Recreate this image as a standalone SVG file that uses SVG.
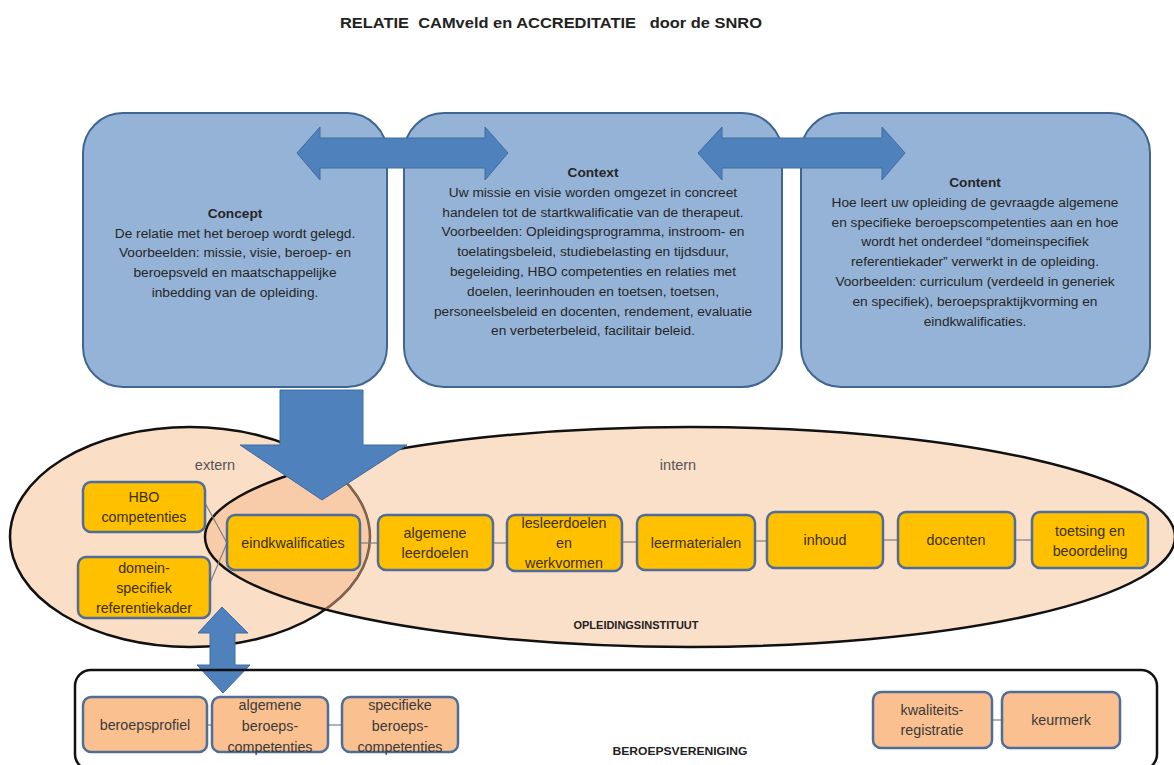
<svg xmlns="http://www.w3.org/2000/svg" width="1174" height="765" viewBox="0 0 1174 765">
<style>
text{font-family:"Liberation Sans",Arial,sans-serif;fill:#222;}
.title{font-size:15.5px;font-weight:bold;}
.blue{fill:#95b3d7;stroke:#3f6593;stroke-width:2;}
.big{font-size:13.7px;text-anchor:middle;fill:#262626;}
.bold{font-weight:bold;}
.arrow{fill:#4f81bd;stroke:#3f6c9f;stroke-width:1;}
.yel{fill:#ffc000;stroke:#4f6d96;stroke-width:2.5;}
.org{fill:#fac090;stroke:#4f6d96;stroke-width:2.5;}
.lbl{font-size:14.3px;text-anchor:middle;fill:#3a3000;}
.olbl{font-size:14.3px;text-anchor:middle;fill:#3a3a3a;}
.small{font-size:11px;font-weight:bold;text-anchor:middle;}
.con{stroke:#7f7f7f;stroke-width:1.2;fill:none;}
.gray{font-size:14.5px;text-anchor:middle;fill:#555;}
</style>
<text class="title" x="551" y="28" text-anchor="middle" textLength="422" lengthAdjust="spacingAndGlyphs" xml:space="preserve">RELATIE  CAMveld en ACCREDITATIE   door de SNRO</text>

<g id="concept">
<rect class="blue" x="83" y="113" width="304" height="274" rx="40"/>
<text class="big" x="235" y="218"><tspan class="bold" x="235">Concept</tspan><tspan x="235" dy="19.7">De relatie met het beroep wordt gelegd.</tspan><tspan x="235" dy="19.7">Voorbeelden: missie, visie, beroep- en</tspan><tspan x="235" dy="19.7">beroepsveld en maatschappelijke</tspan><tspan x="235" dy="19.7">inbedding van de opleiding.</tspan></text>
</g>
<g id="context">
<rect class="blue" x="404" y="113" width="378" height="274" rx="40"/>
<text class="big" x="593" y="177"><tspan class="bold" x="593">Context</tspan><tspan x="593" dy="19.8">Uw missie en visie worden omgezet in concreet</tspan><tspan x="593" dy="19.8">handelen tot de startkwalificatie van de therapeut.</tspan><tspan x="593" dy="19.8">Voorbeelden: Opleidingsprogramma, instroom- en</tspan><tspan x="593" dy="19.8">toelatingsbeleid, studiebelasting en tijdsduur,</tspan><tspan x="593" dy="19.8">begeleiding, HBO competenties en relaties met</tspan><tspan x="593" dy="19.8">doelen, leerinhouden en toetsen, toetsen,</tspan><tspan x="593" dy="19.8">personeelsbeleid en docenten, rendement, evaluatie</tspan><tspan x="593" dy="19.8">en verbeterbeleid, facilitair beleid.</tspan></text>
</g>
<g id="content">
<rect class="blue" x="801" y="113" width="349" height="274" rx="40"/>
<text class="big" x="975" y="187"><tspan class="bold" x="975">Content</tspan><tspan x="975" dy="19.8">Hoe leert uw opleiding de gevraagde algemene</tspan><tspan x="975" dy="19.8">en specifieke beroepscompetenties aan en hoe</tspan><tspan x="975" dy="19.8">wordt het onderdeel “domeinspecifiek</tspan><tspan x="975" dy="19.8">referentiekader” verwerkt in de opleiding.</tspan><tspan x="975" dy="19.8">Voorbeelden: curriculum (verdeeld in generiek</tspan><tspan x="975" dy="19.8">en specifiek), beroepspraktijkvorming en</tspan><tspan x="975" dy="19.8">eindkwalificaties.</tspan></text>
</g>

<defs>
<clipPath id="clipIntern"><ellipse cx="690" cy="537" rx="484" ry="109"/></clipPath>
</defs>
<g id="ellipses">
<ellipse cx="190" cy="537" rx="180" ry="110" fill="#fbdec6" stroke="#111" stroke-width="2.5"/>
<ellipse cx="690" cy="537" rx="485" ry="110" fill="#f4b27e" fill-opacity="0.42" stroke="#111" stroke-width="2.5"/>
<ellipse cx="190" cy="537" rx="180" ry="110" fill="none" stroke="#8a6a55" stroke-width="1.2" clip-path="url(#clipIntern)"/>
</g>
<text class="gray" x="215" y="470">extern</text>
<text class="gray" x="678" y="470">intern</text>
<text class="small" x="636" y="629" textLength="125" lengthAdjust="spacingAndGlyphs">OPLEIDINGSINSTITUUT</text>

<g id="connectors">
<line class="con" x1="205" y1="503" x2="227" y2="543"/>
<line class="con" x1="210" y1="583" x2="227" y2="543"/>
<line class="con" x1="360" y1="543" x2="378" y2="543"/>
<line class="con" x1="493" y1="543" x2="507" y2="543"/>
<line class="con" x1="622" y1="542" x2="637" y2="542"/>
<line class="con" x1="755" y1="541" x2="767" y2="541"/>
<line class="con" x1="883" y1="540" x2="898" y2="540"/>
<line class="con" x1="1015" y1="540" x2="1032" y2="540"/>
<line class="con" x1="207" y1="725" x2="212" y2="725"/>
<line class="con" x1="328" y1="725" x2="342" y2="725"/>
<line class="con" x1="992" y1="720" x2="1002" y2="720"/>
<polygon class="arrow" points="297,153 320,127 320,138 485,138 485,127 508,153 485,180 485,168 320,168 320,180"/>
<polygon class="arrow" points="698,153 722,127 722,138 882,138 882,127 905,153 882,180 882,168 722,168 722,180"/>
<polygon class="arrow" points="280,390 363,390 363,445 407,445 322,500 240,445 280,445"/>
<polygon class="arrow" points="222,607 248,633 235,633 235,665 250,665 223,693 197,665 210,665 210,633 198,633"/>
</g>

<g id="hbo"><rect class="yel" x="83" y="482" width="122" height="50" rx="8"/><text class="lbl" x="144" y="502">HBO</text><text class="lbl" x="144" y="522">competenties</text></g>
<g id="domein"><rect class="yel" x="78" y="557" width="132" height="61" rx="8"/><text class="lbl" x="144" y="573">domein-</text><text class="lbl" x="144" y="593">specifiek</text><text class="lbl" x="144" y="613">referentiekader</text></g>
<g id="eindkwalificaties"><rect class="yel" x="227" y="515" width="133" height="55" rx="8"/><text class="lbl" x="293" y="548">eindkwalificaties</text></g>
<g id="algemene-leerdoelen"><rect class="yel" x="378" y="515" width="115" height="55" rx="8"/><text class="lbl" x="435" y="538">algemene</text><text class="lbl" x="435" y="558">leerdoelen</text></g>
<g id="lesleerdoelen"><rect class="yel" x="507" y="515" width="115" height="56" rx="8"/><text class="lbl" x="564" y="528">lesleerdoelen</text><text class="lbl" x="564" y="548">en</text><text class="lbl" x="564" y="568">werkvormen</text></g>
<g id="leermaterialen"><rect class="yel" x="637" y="515" width="118" height="55" rx="8"/><text class="lbl" x="696" y="548">leermaterialen</text></g>
<g id="inhoud"><rect class="yel" x="767" y="512" width="116" height="56" rx="8"/><text class="lbl" x="825" y="545">inhoud</text></g>
<g id="docenten"><rect class="yel" x="898" y="512" width="117" height="56" rx="8"/><text class="lbl" x="956" y="545">docenten</text></g>
<g id="toetsing"><rect class="yel" x="1032" y="512" width="116" height="56" rx="8"/><text class="lbl" x="1090" y="536">toetsing en</text><text class="lbl" x="1090" y="556">beoordeling</text></g>

<g id="beroepsvereniging">
<rect x="75" y="670" width="1082" height="100" rx="16" fill="none" stroke="#111" stroke-width="2.5"/>
<text class="small" x="680" y="755" textLength="135" lengthAdjust="spacingAndGlyphs">BEROEPSVERENIGING</text>
</g>
<g id="beroepsprofiel"><rect class="org" x="83" y="697" width="124" height="55" rx="8"/><text class="olbl" x="145" y="730">beroepsprofiel</text></g>
<g id="algemene-beroepscompetenties"><rect class="org" x="212" y="697" width="116" height="55" rx="8"/><text class="olbl" x="270" y="710">algemene</text><text class="olbl" x="270" y="731">beroeps-</text><text class="olbl" x="270" y="752">competenties</text></g>
<g id="specifieke-beroepscompetenties"><rect class="org" x="342" y="697" width="116" height="55" rx="8"/><text class="olbl" x="400" y="710">specifieke</text><text class="olbl" x="400" y="731">beroeps-</text><text class="olbl" x="400" y="752">competenties</text></g>
<g id="kwaliteitsregistratie"><rect class="org" x="873" y="692" width="119" height="56" rx="8"/><text class="olbl" x="932" y="715">kwaliteits-</text><text class="olbl" x="932" y="735">registratie</text></g>
<g id="keurmerk"><rect class="org" x="1002" y="692" width="118" height="56" rx="8"/><text class="olbl" x="1061" y="725">keurmerk</text></g>
</svg>
